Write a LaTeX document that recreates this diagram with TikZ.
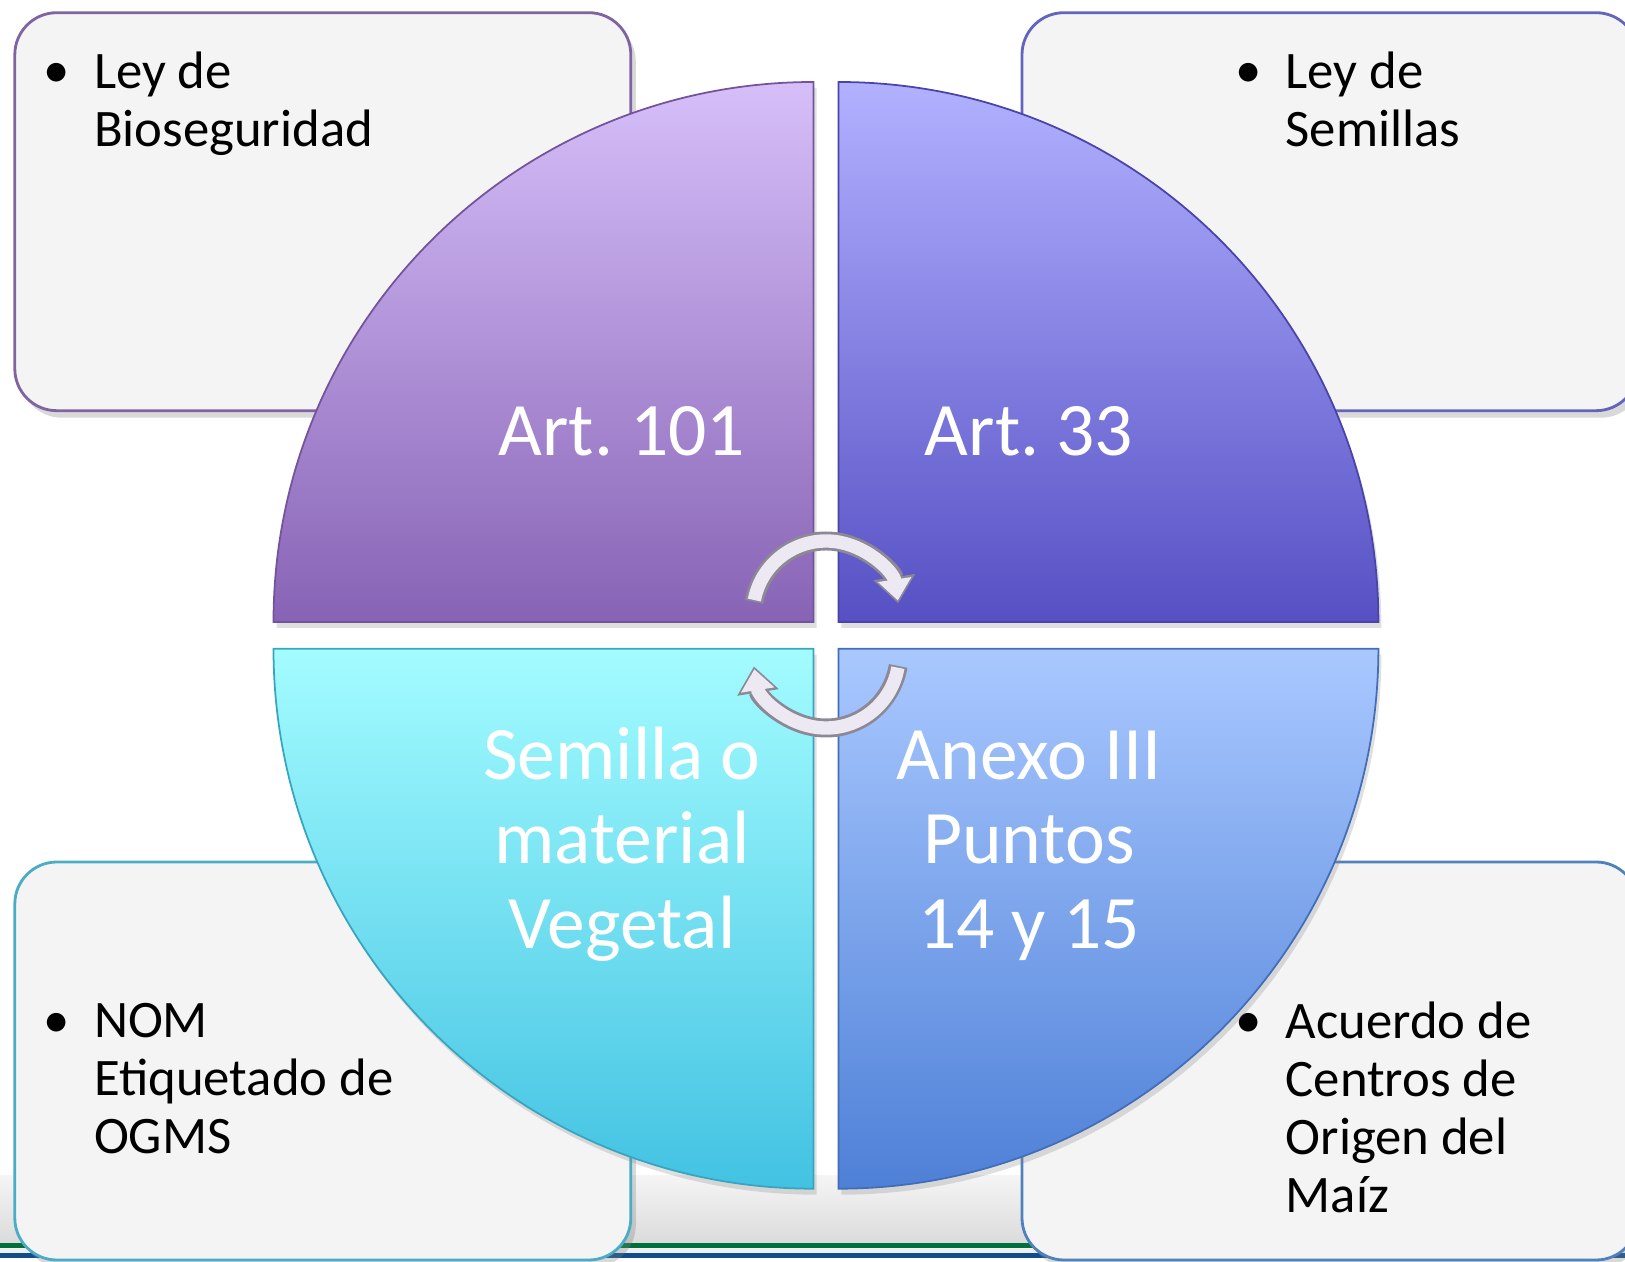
\documentclass[tikz,border=0pt]{standalone}
\usepackage{fontspec}
\setmainfont{Carlito}
\frenchspacing
\usetikzlibrary{arrows.meta,positioning,shadows}
\definecolor{boxgray}{RGB}{244,244,244}
\definecolor{biopurple}{RGB}{128,100,162}
\definecolor{semviolet}{RGB}{100,100,190}
\definecolor{nomcyan}{RGB}{75,172,198}
\definecolor{maizblue}{RGB}{79,129,189}
\definecolor{lilatop}{RGB}{214,191,249}
\definecolor{lilabot}{RGB}{135,99,181}
\definecolor{violtop}{RGB}{177,177,255}
\definecolor{violbot}{RGB}{86,80,196}
\definecolor{cyantop}{RGB}{163,252,255}
\definecolor{cyanbot}{RGB}{66,194,226}
\definecolor{azultop}{RGB}{169,200,255}
\definecolor{azulbot}{RGB}{78,128,215}
\definecolor{arrowfill}{RGB}{236,233,242}
\definecolor{arrowedge}{RGB}{140,136,150}
\definecolor{footgreen}{RGB}{0,112,60}
\definecolor{footblue}{RGB}{16,78,139}

\begin{document}
\begin{tikzpicture}[
  lawbox/.style={rectangle, rounded corners=0.42cm, fill=boxgray,
    line width=0.8pt, minimum width=6.16cm, minimum height=3.98cm,
    drop shadow={opacity=0.3, shadow xshift=0.05cm, shadow yshift=-0.07cm}},
  lawtext/.style={font=\fontsize{15}{16.5}\selectfont, align=left, inner sep=0pt, anchor=base west},
  bulletmark/.style={font=\fontsize{15}{16.5}\selectfont, inner sep=0pt, anchor=base},
  quadtext/.style={font=\fontsize{21.5}{24}\selectfont, text=white, align=center, inner sep=0pt, anchor=base},
  quadshadow/.style={drop shadow={opacity=0.25, shadow xshift=0.03cm, shadow yshift=-0.06cm}},
  giroborde/.style={line width=5.4pt, arrowedge, shorten <=-0.5pt, -{Triangle[length=7.5pt,width=11.5pt]}},
  girorelleno/.style={line width=3.8pt, arrowfill, shorten >=0.8pt, -{Triangle[length=6pt,width=9.2pt]}}
]
  \useasboundingbox (0,0) rectangle (16.25,12.61);

  % franja del pie
  \shade[top color=gray!8, bottom color=gray!28] (0,0.18) rectangle (16.25,0.86);
  \fill[footgreen] (0,0.13) rectangle (16.25,0.18);
  \fill[gray!12] (0,0.08) rectangle (16.25,0.13);
  \fill[footblue] (0,0.035) rectangle (16.25,0.08);

  % cuadros de las leyes
  \node[lawbox, draw=biopurple] (bioseg) at (3.228,10.493) {};
  \node[lawbox, draw=semviolet] (semillas) at (13.30,10.493) {};
  \node[lawbox, draw=nomcyan] (nom) at (3.228,2.0) {};
  \node[lawbox, draw=maizblue] (centros) at (13.30,2.0) {};

  % base = ultima linea del texto
  \node[bulletmark] (b1) at (0.57,11.73) {\textbullet};
  \node[lawtext] (t1) at (0.933,11.148) {Ley de\\Bioseguridad};
  \node[bulletmark] (b2) at (12.49,11.73) {\textbullet};
  \node[lawtext] (t2) at (12.85,11.148) {Ley de\\Semillas};
  \node[bulletmark] (b3) at (0.57,2.235) {\textbullet};
  \node[lawtext] (t3) at (0.933,1.071) {NOM\\Etiquetado de\\OGMS};
  \node[bulletmark] (b4) at (12.49,2.235) {\textbullet};
  \node[lawtext] (t4) at (12.85,0.489) {Acuerdo de\\Centros de\\Origen del\\Maíz};

  % circulo en cuatro partes
  \shadedraw[top color=lilatop, bottom color=lilabot, draw=lilabot!85!black, line width=0.5pt, quadshadow]
    (8.135,6.39) -- ++(-5.4,0) arc[start angle=180, end angle=90, radius=5.4] -- cycle;
  \shadedraw[top color=violtop, bottom color=violbot, draw=violbot!85!black, line width=0.5pt, quadshadow]
    (8.384,6.39) -- ++(0,5.4) arc[start angle=90, end angle=0, radius=5.4] -- cycle;
  \shadedraw[top color=cyantop, bottom color=cyanbot, draw=cyanbot!85!black, line width=0.5pt, quadshadow]
    (8.135,6.123) -- ++(0,-5.4) arc[start angle=270, end angle=180, radius=5.4] -- cycle;
  \shadedraw[top color=azultop, bottom color=azulbot, draw=azulbot!85!black, line width=0.5pt, quadshadow]
    (8.384,6.123) -- ++(5.4,0) arc[start angle=0, end angle=-90, radius=5.4] -- cycle;

  \node[quadtext] (art101) at (6.22,8.05) {Art. 101};
  \node[quadtext] (art33) at (10.29,8.05) {Art. 33};
  \node[quadtext] (semilla) at (6.22,3.127) {Semilla o\\material\\Vegetal};
  \node[quadtext] (anexo) at (10.29,3.127) {Anexo III\\Puntos\\14 y 15};

  % flechas del ciclo
  \coordinate (giroarriba) at (8.26,6.47);
  \coordinate (giroabajo) at (8.26,6.06);
  \draw[giroborde] ([shift={(169:0.73)}]giroarriba) arc[start angle=169, end angle=8.5, radius=0.73];
  \draw[girorelleno] ([shift={(169:0.73)}]giroarriba) arc[start angle=169, end angle=8.5, radius=0.73];
  \draw[giroborde] ([shift={(-10:0.73)}]giroabajo) arc[start angle=-10, end angle=-171, radius=0.73];
  \draw[girorelleno] ([shift={(-10:0.73)}]giroabajo) arc[start angle=-10, end angle=-171, radius=0.73];
\end{tikzpicture}
\end{document}
